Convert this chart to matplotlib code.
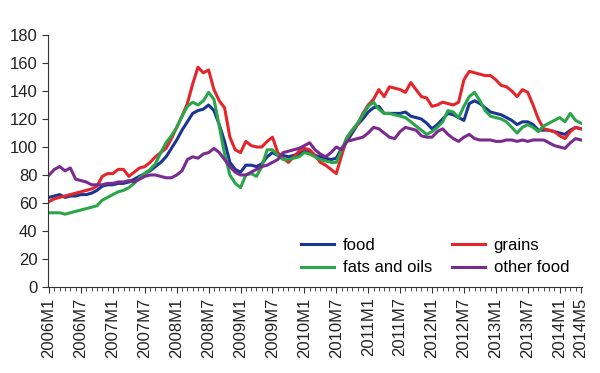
import numpy as np
import matplotlib
matplotlib.use("Agg")
import matplotlib.pyplot as plt

plt.rcParams['font.family'] = ['Liberation Sans', 'DejaVu Sans']

# monthly index values, 2006M1 .. 2014M5
food = [64, 65, 66, 64, 65, 65, 66, 66, 67, 69, 72, 73, 73, 74, 74, 75, 77, 79, 81, 83,
        86, 89, 93, 99, 105, 112, 118, 124, 126, 127, 130, 126, 116, 104, 89, 84, 82, 87, 87, 86,
        88, 93, 96, 94, 94, 93, 94, 95, 97, 96, 94, 93, 92, 91, 92, 99, 104, 110, 116, 120,
        125, 128, 129, 124, 124, 124, 124, 125, 122, 121, 120, 117, 113, 116, 120, 124, 123, 121, 119, 131,
        133, 131, 128, 125, 124, 123, 121, 119, 116, 118, 118, 116, 112, 112, 112, 111, 110, 109, 112, 114,
        113]
grains = [61, 63, 64, 65, 66, 67, 68, 69, 70, 72, 79, 81, 81, 84, 84, 79, 82, 85, 86, 89,
          93, 96, 99, 106, 114, 122, 131, 145, 157, 153, 155, 141, 133, 128, 107, 98, 96, 104, 101, 100,
          100, 104, 107, 96, 92, 89, 93, 97, 99, 98, 94, 89, 87, 84, 81, 94, 106, 112, 116, 124,
          130, 134, 141, 136, 143, 142, 141, 139, 146, 141, 136, 135, 129, 130, 132, 131, 130, 132, 148, 154,
          153, 152, 151, 151, 148, 144, 143, 140, 136, 141, 139, 130, 120, 113, 112, 111, 108, 106, 111, 114,
          113]
fats_oils = [53, 53, 53, 52, 53, 54, 55, 56, 57, 58, 62, 64, 66, 68, 69, 71, 74, 78, 81, 84,
             88, 96, 103, 108, 114, 122, 129, 132, 130, 133, 139, 134, 115, 95, 80, 74, 71, 80, 81, 79,
             86, 98, 98, 94, 91, 91, 92, 93, 96, 95, 93, 91, 90, 89, 89, 98, 107, 112, 117, 123,
             129, 132, 127, 124, 124, 123, 122, 121, 118, 115, 112, 109, 111, 114, 118, 126, 125, 121, 129, 136,
             139, 133, 126, 122, 121, 120, 118, 114, 110, 114, 116, 114, 111, 115, 117, 119, 121, 118, 124, 119,
             117]
other_food = [80, 84, 86, 83, 85, 77, 76, 75, 73, 73, 73, 74, 74, 75, 75, 76, 75, 77, 79, 80,
              80, 79, 78, 78, 80, 83, 91, 93, 92, 95, 96, 99, 96, 91, 86, 82, 80, 80, 82, 84,
              86, 87, 89, 91, 96, 97, 98, 99, 101, 103, 98, 95, 93, 96, 100, 98, 104, 105, 106, 107,
              110, 114, 113, 110, 107, 106, 111, 114, 113, 112, 108, 107, 107, 111, 113, 109, 106, 104, 107, 109,
              106, 105, 105, 105, 104, 104, 105, 105, 104, 105, 104, 105, 105, 105, 103, 101, 100, 99, 103, 106,
              105]

months = []
for y in range(2006, 2015):
    for m in range(1, 13):
        months.append(f"{y}M{m}")
months = months[:len(food)]
label_months = [m for i, m in enumerate(months) if i % 6 == 0] + ["2014M5"]

x = np.arange(len(months))

fig = plt.figure(figsize=(6, 3.73), dpi=100)
ax = fig.add_axes([0.08, 0.2306, 0.89, 0.6756])

lw = 2.2
l_food, = ax.plot(x, food, color="#1b3593", lw=lw, label="food")
l_grains, = ax.plot(x, grains, color="#e4252b", lw=lw, label="grains")
l_fats, = ax.plot(x, fats_oils, color="#2aa64a", lw=lw, label="fats and oils")
l_other, = ax.plot(x, other_food, color="#7a2b8f", lw=lw, label="other food")

ax.set_ylim(0, 180)
ax.set_yticks(range(0, 181, 20))
ax.set_xlim(-0.2, 100.2)
ax.set_xticks([months.index(m) for m in label_months])
ax.set_xticklabels(label_months, rotation=90)
ax.set_xticks(x, minor=True)

for s in ["top", "right"]:
    ax.spines[s].set_visible(False)
for s in ["left", "bottom"]:
    ax.spines[s].set_color("#333333")
ax.tick_params(axis="y", labelsize=12, length=4, colors="#333333", labelcolor="#222222")
ax.tick_params(axis="x", which="major", labelsize=12, length=4, colors="#333333", labelcolor="#222222")
ax.tick_params(axis="x", which="minor", length=3, colors="#333333")

# column-wise fill: food / fats and oils, then grains / other food
ax.legend([l_food, l_fats, l_grains, l_other],
          ["food", "fats and oils", "grains", "other food"],
          ncol=2, loc="center", bbox_to_anchor=(0.725, 0.12), frameon=False,
          fontsize=12, handlelength=2.0, columnspacing=1.2, labelspacing=0.45,
          handletextpad=0.5)

fig.savefig("out.png", dpi=100)
